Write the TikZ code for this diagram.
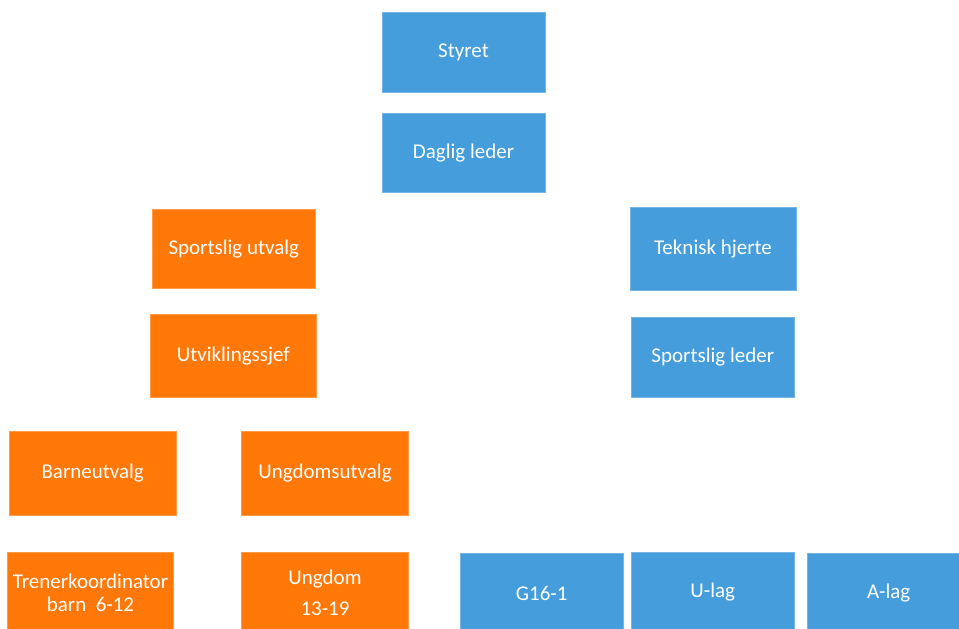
\documentclass[tikz,border=0pt]{standalone}
\usepackage{fontspec}
\setmainfont{Carlito}
\definecolor{boxblue}{RGB}{69,157,220}
\definecolor{boxorange}{RGB}{255,120,8}
\tikzset{
  orgbox/.style={rectangle, inner sep=0pt, align=center, text=white,
    font=\fontsize{21}{23}\selectfont, line width=0.6pt},
  bluebox/.style={orgbox, fill=boxblue, draw=boxblue!75!white},
  orangebox/.style={orgbox, fill=boxorange, draw=boxorange!75!white},
}
\begin{document}
\begin{tikzpicture}[x=1pt,y=-1pt]
\clip (0,0) rectangle (959,629);
\fill[white] (0,0) rectangle (959,629);
\node[bluebox, minimum width=163pt, minimum height=80pt] (styret) at (463.5,52.7) {Styret};
\node[bluebox, minimum width=163pt, minimum height=79.4pt] (daglig) at (463.5,153) {Daglig leder};
\node[orangebox, minimum width=162.3pt, minimum height=79.3pt] (sportutv) at (233.8,248.7) {Sportslig utvalg};
\node[orangebox, minimum width=166.7pt, minimum height=83.4pt] (utvikl) at (233.3,356) {Utviklingssjef};
\node[bluebox, minimum width=166pt, minimum height=83.4pt] (teknisk) at (713,249) {Teknisk hjerte};
\node[bluebox, minimum width=162.3pt, minimum height=80.4pt] (sportleder) at (712.8,357.5) {Sportslig leder};
\node[orangebox, minimum width=166.7pt, minimum height=83.3pt] (barne) at (92.7,473.3) {Barneutvalg};
\node[orangebox, minimum width=166.6pt, minimum height=83.3pt] (ungdomsutv) at (325,473.3) {Ungdomsutvalg};
\node[orangebox, minimum width=166.4pt, minimum height=80.3pt] (trener) at (90.5,592.8) {Trenerkoordinator\\barn \ 6-12};
\node[orangebox, minimum width=166.6pt, minimum height=80.3pt, font=\fontsize{21}{31}\selectfont] (ungdom) at (325,592.8) {Ungdom\\13-19};
\node[bluebox, minimum width=163.3pt, minimum height=79.7pt] (g16) at (541.7,593.2) {G16-1};
\node[bluebox, minimum width=162.3pt, minimum height=80pt] (ulag) at (712.8,592) {U-lag};
\node[bluebox, minimum width=162.7pt, minimum height=79.7pt] (alag) at (888.7,593.2) {A-lag};
\end{tikzpicture}
\end{document}
